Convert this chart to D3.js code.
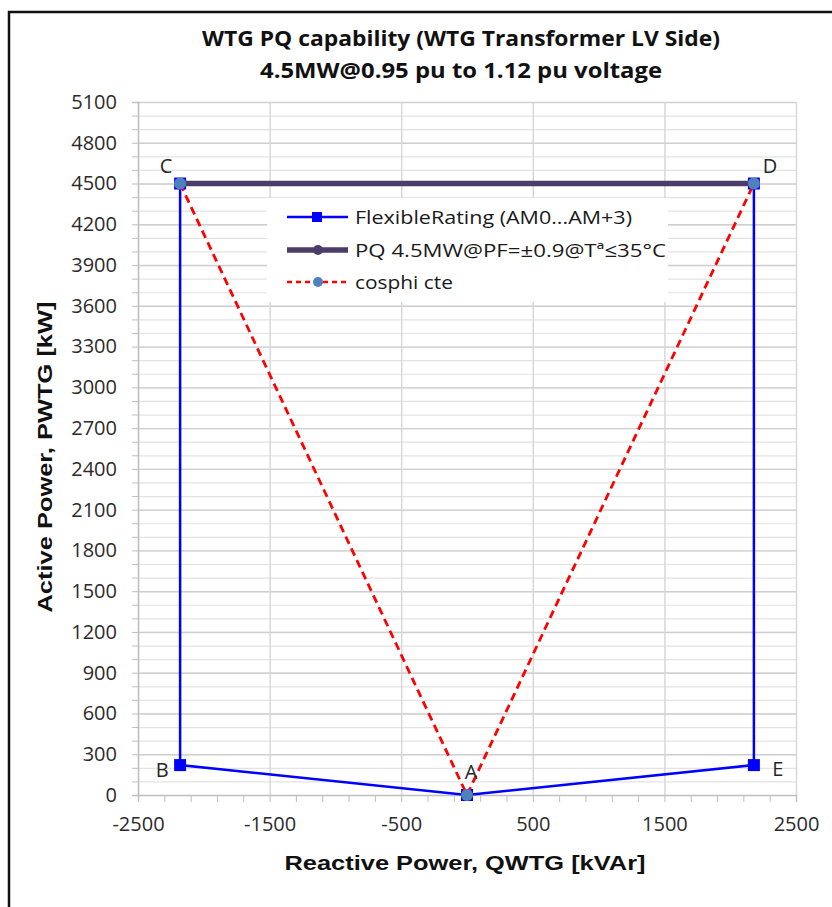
<!DOCTYPE html>
<html>
<head>
<meta charset="utf-8">
<script src="https://cdn.jsdelivr.net/npm/d3@7"></script>
<style>
  body { margin: 0; background: #fff; }
  svg { display: block; }
</style>
</head>
<body>
<script>
const width = 832;
const height = 907;

// Chart data
const flexQ = [-2180, -2180, 0, 2180, 2180];
const flexP = [4500, 220, 0, 220, 4500];
const flexLabels = ['C', 'B', 'A', 'E', 'D'];
const pqQ = [-2180, 2180];
const pqP = [4500, 4500];
const cosQ = [-2180, 0, 2180];
const cosP = [4500, 0, 4500];
const xLabelTicks = [-2500, -1500, -500, 500, 1500, 2500];
const yLabelTicks = [0, 300, 600, 900, 1200, 1500, 1800, 2100, 2400, 2700, 3000, 3300, 3600, 3900, 4200, 4500, 4800, 5100];
const legendNames = ['FlexibleRating (AM0...AM+3)', 'PQ 4.5MW@PF=±0.9@Tª≤35°C', 'cosphi cte'];
const titleLines = ['WTG PQ capability (WTG Transformer LV Side)', '4.5MW@0.95 pu to 1.12 pu voltage'];

const calibri = "'Open Sans', 'DejaVu Sans', sans-serif";
const arial = "'Liberation Sans', Arial, sans-serif";
const plain = d => String(d);

const svg = d3.select('body')
  .append('svg')
  .attr('width', width)
  .attr('height', height);

// outer chart frame (runs off the right/bottom edge)
svg.append('rect')
  .attr('x', 9).attr('y', 12)
  .attr('width', 900).attr('height', 1000)
  .attr('fill', '#fff')
  .attr('stroke', '#111')
  .attr('stroke-width', 2.5);

const x = d3.scaleLinear().domain([-2500, 2500]).range([138, 796]);
const y = d3.scaleLinear().domain([0, 5100]).range([795, 102]);

// horizontal grid: minor every 100, major every 300
svg.append('g')
  .attr('transform', `translate(${x(-2500)},0)`)
  .call(d3.axisLeft(y).tickValues(d3.range(100, 5101, 100)).tickSize(-(x(2500) - x(-2500))).tickFormat(''))
  .call(g => g.select('.domain').remove())
  .call(g => g.selectAll('line').attr('stroke', '#e3e3e3').attr('stroke-width', 1.2));

svg.append('g')
  .attr('transform', `translate(${x(-2500)},0)`)
  .call(d3.axisLeft(y).tickValues(yLabelTicks.filter(d => d > 0)).tickSize(-(x(2500) - x(-2500))).tickFormat(''))
  .call(g => g.select('.domain').remove())
  .call(g => g.selectAll('line').attr('stroke', '#cfcfcf').attr('stroke-width', 1.4));

// vertical grid at labelled ticks
svg.append('g')
  .attr('transform', `translate(0,${y(0)})`)
  .call(d3.axisBottom(x).tickValues(xLabelTicks).tickSize(-(y(0) - y(5100))).tickFormat(''))
  .call(g => g.select('.domain').remove())
  .call(g => g.selectAll('line').attr('stroke', '#d6d6d6').attr('stroke-width', 1.4));

// y axis with minor ticks
svg.append('g')
  .attr('transform', `translate(${x(-2500)},0)`)
  .call(d3.axisLeft(y).tickValues(d3.range(0, 5101, 100)).tickSize(6).tickFormat(''))
  .call(g => g.select('.domain').attr('stroke', '#bfbfbf').attr('stroke-width', 1.4))
  .call(g => g.selectAll('line').attr('stroke', '#bfbfbf'));

svg.append('g')
  .attr('transform', `translate(${x(-2500)},0)`)
  .call(d3.axisLeft(y).tickValues(yLabelTicks).tickSize(0).tickPadding(21).tickFormat(plain))
  .call(g => g.select('.domain').remove())
  .call(g => g.selectAll('text')
    .attr('fill', '#2b2b2b')
    .style('font-family', calibri)
    .style('font-size', '20px'));

// x axis with minor ticks
svg.append('g')
  .attr('transform', `translate(0,${y(0)})`)
  .call(d3.axisBottom(x).tickValues(d3.range(-2500, 2501, 200)).tickSize(7).tickFormat(''))
  .call(g => g.select('.domain').attr('stroke', '#bfbfbf').attr('stroke-width', 1.4))
  .call(g => g.selectAll('line').attr('stroke', '#bfbfbf'));

svg.append('g')
  .attr('transform', `translate(0,${y(0)})`)
  .call(d3.axisBottom(x).tickValues(xLabelTicks).tickSize(0).tickPadding(22).tickFormat(plain))
  .call(g => g.select('.domain').remove())
  .call(g => g.selectAll('text')
    .attr('fill', '#2b2b2b')
    .style('font-family', calibri)
    .style('font-size', '20px'));

// axis titles
svg.append('text')
  .attr('x', 465).attr('y', 870)
  .attr('text-anchor', 'middle')
  .attr('textLength', 361).attr('lengthAdjust', 'spacingAndGlyphs')
  .style('font-family', arial).style('font-weight', 'bold').style('font-size', '21px')
  .attr('fill', '#111')
  .text('Reactive Power, QWTG [kVAr]');

svg.append('text')
  .attr('transform', 'translate(52,457) rotate(-90)')
  .attr('text-anchor', 'middle')
  .attr('textLength', 311).attr('lengthAdjust', 'spacingAndGlyphs')
  .style('font-family', arial).style('font-weight', 'bold').style('font-size', '21px')
  .attr('fill', '#111')
  .text('Active Power, PWTG [kW]');

// title
svg.selectAll('.title')
  .data(titleLines)
  .enter()
  .append('text')
  .attr('class', 'title')
  .attr('x', 461)
  .attr('y', (d, i) => 46 + i * 32)
  .attr('text-anchor', 'middle')
  .attr('textLength', (d, i) => i === 0 ? 518 : 402)
  .attr('lengthAdjust', 'spacingAndGlyphs')
  .style('font-family', calibri).style('font-weight', 'bold').style('font-size', '22px')
  .attr('fill', '#111')
  .text(d => d);

// series
const line = d3.line().x(d => x(d[0])).y(d => y(d[1]));
const flexPts = flexQ.map((q, i) => [q, flexP[i]]);
const pqPts = pqQ.map((q, i) => [q, pqP[i]]);
const cosPts = cosQ.map((q, i) => [q, cosP[i]]);

svg.append('path')
  .datum(flexPts)
  .attr('d', line)
  .attr('fill', 'none')
  .attr('stroke', '#0000ff')
  .attr('stroke-width', 2.5);

svg.selectAll('.flexMarker')
  .data(flexPts)
  .enter()
  .append('rect')
  .attr('x', d => x(d[0]) - 6)
  .attr('y', d => y(d[1]) - 6)
  .attr('width', 12).attr('height', 12)
  .attr('fill', '#0000ff');

svg.append('path')
  .datum(pqPts)
  .attr('d', line)
  .attr('fill', 'none')
  .attr('stroke', '#4b3d67')
  .attr('stroke-width', 5.5);

svg.selectAll('.pqMarker')
  .data(pqPts)
  .enter()
  .append('circle')
  .attr('cx', d => x(d[0]))
  .attr('cy', d => y(d[1]))
  .attr('r', 5)
  .attr('fill', '#4b3d67');

svg.append('path')
  .datum(cosPts)
  .attr('d', line)
  .attr('fill', 'none')
  .attr('stroke', '#ff0000')
  .attr('stroke-width', 2.8)
  .attr('stroke-dasharray', '8,5');

svg.selectAll('.cosMarker')
  .data(cosPts)
  .enter()
  .append('circle')
  .attr('cx', d => x(d[0]))
  .attr('cy', d => y(d[1]))
  .attr('r', 6)
  .attr('fill', '#4f81bd');

// point labels
const labelOffset = { C: [-14, -11], B: [-18, 12], A: [4, -16], E: [24, 11], D: [16, -11] };
svg.selectAll('.ptLabel')
  .data(flexPts)
  .enter()
  .append('text')
  .attr('x', (d, i) => x(d[0]) + labelOffset[flexLabels[i]][0])
  .attr('y', (d, i) => y(d[1]) + labelOffset[flexLabels[i]][1])
  .attr('text-anchor', 'middle')
  .style('font-family', calibri).style('font-size', '20px')
  .attr('fill', '#262626')
  .text((d, i) => flexLabels[i]);

// legend
const legend = svg.append('g');
legend.append('rect')
  .attr('x', 267).attr('y', 198)
  .attr('width', 401).attr('height', 104)
  .attr('fill', '#fff');

const rowY = [217, 250, 282];
const textLen = [277, 311, 98];

// row 1: blue line + square
legend.append('line')
  .attr('x1', 287).attr('x2', 348).attr('y1', rowY[0]).attr('y2', rowY[0])
  .attr('stroke', '#0000ff').attr('stroke-width', 2.5);
legend.append('rect')
  .attr('x', 312).attr('y', rowY[0] - 5).attr('width', 10).attr('height', 10)
  .attr('fill', '#0000ff');

// row 2: thick purple line + circle
legend.append('line')
  .attr('x1', 287).attr('x2', 348).attr('y1', rowY[1]).attr('y2', rowY[1])
  .attr('stroke', '#4b3d67').attr('stroke-width', 5.5);
legend.append('circle')
  .attr('cx', 318).attr('cy', rowY[1]).attr('r', 5)
  .attr('fill', '#4b3d67');

// row 3: red dashed + blue circle
legend.append('line')
  .attr('x1', 287).attr('x2', 348).attr('y1', rowY[2]).attr('y2', rowY[2])
  .attr('stroke', '#ff0000').attr('stroke-width', 2.5).attr('stroke-dasharray', '5,4');
legend.append('circle')
  .attr('cx', 318).attr('cy', rowY[2]).attr('r', 5)
  .attr('fill', '#4f81bd');

legend.selectAll('.legText')
  .data(legendNames)
  .enter()
  .append('text')
  .attr('x', 355)
  .attr('y', (d, i) => rowY[i] + 7)
  .attr('textLength', (d, i) => textLen[i])
  .attr('lengthAdjust', 'spacingAndGlyphs')
  .style('font-family', calibri).style('font-size', '19px')
  .attr('fill', '#1a1a1a')
  .text(d => d);
</script>
</body>
</html>
